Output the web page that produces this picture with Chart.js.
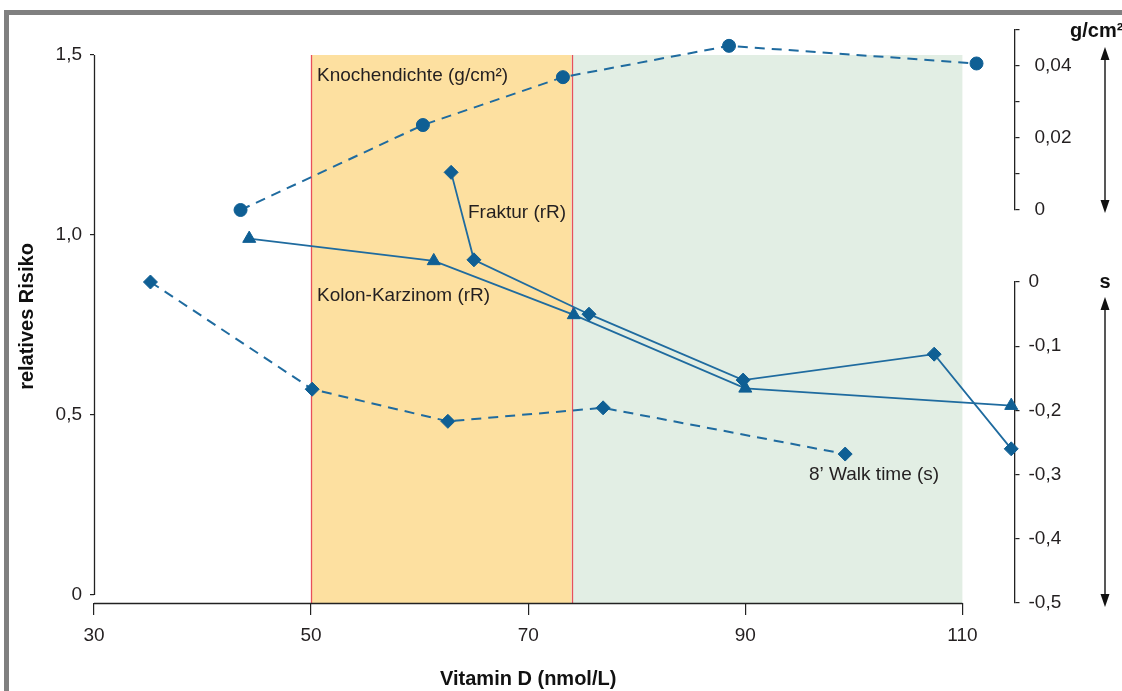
<!DOCTYPE html>
<html><head><meta charset="utf-8">
<script src="https://cdn.jsdelivr.net/npm/chart.js@4.4.0/dist/chart.umd.min.js"></script>
<style>
html,body{margin:0;padding:0;background:#fff;width:1122px;height:691px;overflow:hidden;}
#frame{position:absolute;left:4px;top:10px;right:0;bottom:0;border-top:5px solid #808080;border-left:5px solid #808080;}
#c{position:absolute;left:0;top:0;}
</style></head><body>
<div id="frame"></div>
<canvas id="c" width="1122" height="691"></canvas>
<script>
// ---- data ----
const xTicks = [30, 50, 70, 90, 110];
const riskTicks = [0, 0.5, 1.0, 1.5];
const riskTickLabels = ['0', '0,5', '1,0', '1,5'];
const bmdTicks = [0, 0.01, 0.02, 0.03, 0.04, 0.05];
const bmdTickLabels = ['0', '', '0,02', '', '0,04', ''];
const walkTicks = [-0.5, -0.4, -0.3, -0.2, -0.1, 0];
const walkTickLabels = ['-0,5', '-0,4', '-0,3', '-0,2', '-0,1', '0'];

const bmdX = [43.5, 60.3, 73.2, 88.5, 111.3];
const bmdY = [0, 0.0236, 0.0369, 0.0456, 0.0407];          // g/cm²
const frakturX = [62.9, 65.0, 75.6, 89.8, 107.4, 114.5];
const frakturY = [1.174, 0.931, 0.780, 0.597, 0.669, 0.406]; // rR
const kolonX = [44.3, 61.3, 74.2, 90.0, 114.5];
const kolonY = [0.99, 0.928, 0.778, 0.574, 0.526];          // rR
const walkX = [35.2, 50.1, 62.6, 76.9, 99.2];
const walkY = [0, -0.167, -0.217, -0.196, -0.268];          // s

const zones = [[50, 74], [74, 110]];
const seriesNames = ['Knochendichte (g/cm²)', 'Fraktur (rR)', 'Kolon-Karzinom (rR)', '8’ Walk time (s)'];

// ---- style ----
const F = '"Liberation Sans", Arial, sans-serif';
const BLUE = '#0f5f94';
const LINE = '#1f6b9f';
const zoneColors = ['#fde0a0', '#e2eee4'];
const TXT = '#231f20';

const pts = (xs, ys) => xs.map((x, i) => ({x, y: ys[i]}));

const deco = {
  id: 'deco',
  beforeDatasetsDraw(chart) {
    const {ctx, chartArea} = chart;
    const xs = chart.scales.x, ys = chart.scales.y;
    const top = ys.getPixelForValue(1.5), bot = chartArea.bottom;
    ctx.save();
    zones.forEach((z, i) => {
      const a = xs.getPixelForValue(z[0]), b = xs.getPixelForValue(z[1]);
      ctx.fillStyle = zoneColors[i];
      ctx.fillRect(a, top, b - a, bot - top);
    });
    ctx.strokeStyle = '#e8505a'; ctx.lineWidth = 1.3;
    zones[0].forEach(v => {
      const p = Math.round(xs.getPixelForValue(v)) + 0.5;
      ctx.beginPath(); ctx.moveTo(p, top); ctx.lineTo(p, bot); ctx.stroke();
    });
    ctx.strokeStyle = '#222'; ctx.lineWidth = 1.3;
    const lx = Math.round(chartArea.left) + 0.5;
    ctx.beginPath(); ctx.moveTo(lx, ys.getPixelForValue(riskTicks[riskTicks.length-1])); ctx.lineTo(lx, ys.getPixelForValue(0)); ctx.stroke();
    const by = Math.round(bot) + 0.5;
    ctx.beginPath(); ctx.moveTo(xs.getPixelForValue(xTicks[0]), by); ctx.lineTo(xs.getPixelForValue(xTicks[xTicks.length-1]), by); ctx.stroke();
    ctx.restore();
  },
  afterDraw(chart) {
    const {ctx} = chart;
    const xs = chart.scales.x;
    ctx.save();
    ctx.fillStyle = TXT;
    ctx.textBaseline = 'middle'; ctx.textAlign = 'left';
    ctx.font = '19px ' + F;
    ctx.fillText(seriesNames[0], 317, 76);
    ctx.fillText(seriesNames[1], 468, 213);
    ctx.fillText(seriesNames[2], 317, 296);
    ctx.fillText(seriesNames[3], 809, 475);
    ctx.font = 'bold 20px ' + F;
    ctx.fillStyle = '#111';
    ctx.textAlign = 'center';
    ctx.fillText('Vitamin D (nmol/L)', xs.getPixelForValue(70), 679);
    ctx.fillText('s', 1105, 282);
    ctx.textAlign = 'left';
    ctx.fillText('g/cm²', 1070, 31);
    // arrows
    const arrow = (x, y1, y2) => {
      ctx.strokeStyle = '#111'; ctx.fillStyle = '#111'; ctx.lineWidth = 1.4;
      ctx.beginPath(); ctx.moveTo(x, y1 + 8); ctx.lineTo(x, y2 - 8); ctx.stroke();
      ctx.beginPath(); ctx.moveTo(x, y1); ctx.lineTo(x - 4.5, y1 + 13); ctx.lineTo(x + 4.5, y1 + 13); ctx.closePath(); ctx.fill();
      ctx.beginPath(); ctx.moveTo(x, y2); ctx.lineTo(x - 4.5, y2 - 13); ctx.lineTo(x + 4.5, y2 - 13); ctx.closePath(); ctx.fill();
    };
    arrow(1105, 47, 213);
    arrow(1105, 297, 607);
    ctx.restore();
  }
};

const tickFont = {family: F, size: 19};
const gridTicks = len => ({drawOnChartArea: false, drawTicks: true, tickLength: len, color: '#222', lineWidth: 1.2});

const ds = (label, data, axis, style, radius, dashed) => ({
  label, data, yAxisID: axis, showLine: true, fill: false, tension: 0,
  borderColor: LINE, borderWidth: dashed ? 2 : 1.8, borderDash: dashed ? [10, 7] : [],
  pointStyle: style, pointRadius: radius, pointBackgroundColor: BLUE, pointBorderColor: BLUE,
  pointBorderWidth: 1, clip: false
});

new Chart(document.getElementById('c'), {
  type: 'line',
  data: {
    datasets: [
      ds(seriesNames[0], pts(bmdX, bmdY), 'yBmd', 'circle', 6.5, true),
      ds(seriesNames[1], pts(frakturX, frakturY), 'y', 'rectRot', 7, false),
      ds(seriesNames[2], pts(kolonX, kolonY), 'y', 'triangle', 7.5, false),
      ds(seriesNames[3], pts(walkX, walkY), 'yWalk', 'rectRot', 7, true)
    ]
  },
  plugins: [deco],
  options: {
    responsive: false, animation: false, devicePixelRatio: 1,
    layout: {padding: {top: 30, left: 0, right: 0, bottom: 0}},
    plugins: {legend: {display: false}, tooltip: {enabled: false}},
    scales: {
      x: {
        type: 'linear', min: 30, max: 114.8,
        afterBuildTicks: s => { s.ticks = xTicks.map(v => ({value: v})); },
        afterFit: s => { s.height = 88; },
        border: {display: false},
        grid: gridTicks(12),
        ticks: {font: tickFont, color: TXT, padding: 9, maxRotation: 0, autoSkip: false, callback: v => String(v)}
      },
      y: {
        type: 'linear', position: 'left', min: -0.02222, max: 1.56944,
        afterBuildTicks: s => { s.ticks = riskTicks.map(v => ({value: v})); },
        afterFit: s => { s.width = 94; },
        border: {display: false},
        grid: gridTicks(4),
        ticks: {font: tickFont, color: TXT, padding: 8, autoSkip: false, callback: (v, i) => riskTickLabels[i]},
        title: {display: true, text: 'relatives Risiko', color: '#111', font: {family: F, size: 20, weight: 'bold'}, padding: {top: 15, bottom: 0}}
      },
      yBmd: {
        type: 'linear', position: 'right', stack: 'right', stackWeight: 180, min: 0, max: 0.05,
        afterBuildTicks: s => { s.ticks = bmdTicks.map(v => ({value: v})); },
        afterFit: s => { s.width = 107.5; },
        border: {display: true, color: '#222', width: 1.3},
        grid: gridTicks(5),
        ticks: {font: tickFont, color: TXT, padding: 15, autoSkip: false, callback: (v, i) => bmdTickLabels[i]}
      },
      yGap: {
        type: 'linear', position: 'right', stack: 'right', stackWeight: 72, min: 0, max: 1,
        afterFit: s => { s.width = 107.5; },
        border: {display: false}, grid: {display: false}, ticks: {display: false}
      },
      yWalk: {
        type: 'linear', position: 'right', stack: 'right', stackWeight: 321, min: -0.5, max: 0,
        afterBuildTicks: s => { s.ticks = walkTicks.map(v => ({value: v})); },
        afterFit: s => { s.width = 107.5; },
        border: {display: true, color: '#222', width: 1.3},
        grid: gridTicks(5),
        ticks: {font: tickFont, color: TXT, padding: 9, autoSkip: false, callback: (v, i) => walkTickLabels[i]}
      }
    }
  }
});
</script>
</body></html>
